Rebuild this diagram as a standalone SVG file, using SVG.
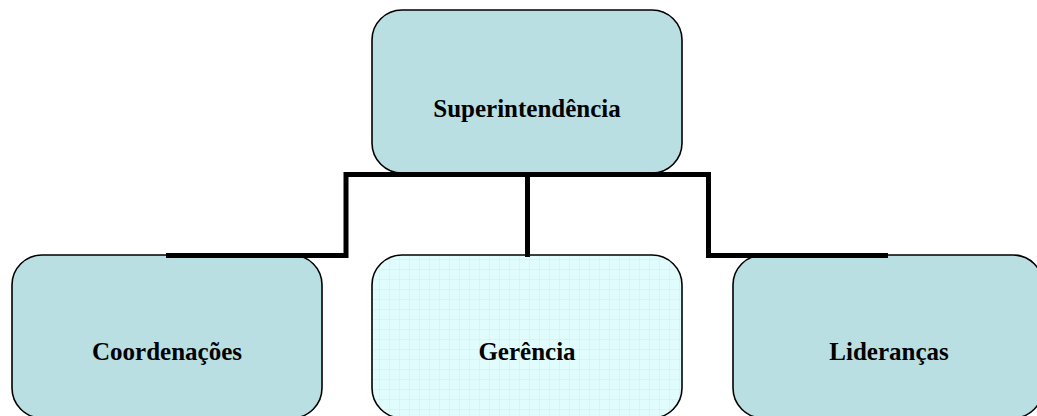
<svg xmlns="http://www.w3.org/2000/svg" width="1037" height="416" viewBox="0 0 1037 416">
<defs>
<pattern id="grid" width="10" height="10" patternUnits="userSpaceOnUse">
<rect width="10" height="10" fill="#E0FCFD"/>
<path d="M10 0V10M0 10H10" stroke="#C9F1F4" stroke-width="1" fill="none"/>
</pattern>
</defs>
<style>
.box{fill:#BADFE3;stroke:#000;stroke-width:1.6}
.grid{fill:url(#grid);stroke:#000;stroke-width:1.6}
.lbl{font-family:"Liberation Serif","Times New Roman",serif;font-weight:bold;font-size:25px;text-anchor:middle;fill:#000}
.conn{fill:none;stroke:#000;stroke-width:5;stroke-linejoin:miter}
</style>
<rect width="1037" height="416" fill="#fff"/>
<g id="superintendencia">
<rect class="box" x="372" y="10" width="310" height="163" rx="30" ry="30"/>
<text class="lbl" x="527" y="117">Superintendência</text>
</g>
<g id="coordenacoes">
<rect class="box" x="12" y="255" width="310" height="163" rx="30" ry="30"/>
<text class="lbl" x="167" y="360">Coordenações</text>
</g>
<g id="gerencia">
<rect class="grid" x="372" y="255" width="310" height="163" rx="30" ry="30"/>
<text class="lbl" x="527" y="360">Gerência</text>
</g>
<g id="liderancas">
<rect class="box" x="733" y="255" width="310" height="163" rx="30" ry="30"/>
<text class="lbl" x="889" y="360">Lideranças</text>
</g>
<g id="connectors">
<path class="conn" d="M166 255.5H346V174.5H708.5V255.5H888"/>
<path class="conn" d="M527.5 174.5V257" stroke-width="4.5"/>
</g>
</svg>
